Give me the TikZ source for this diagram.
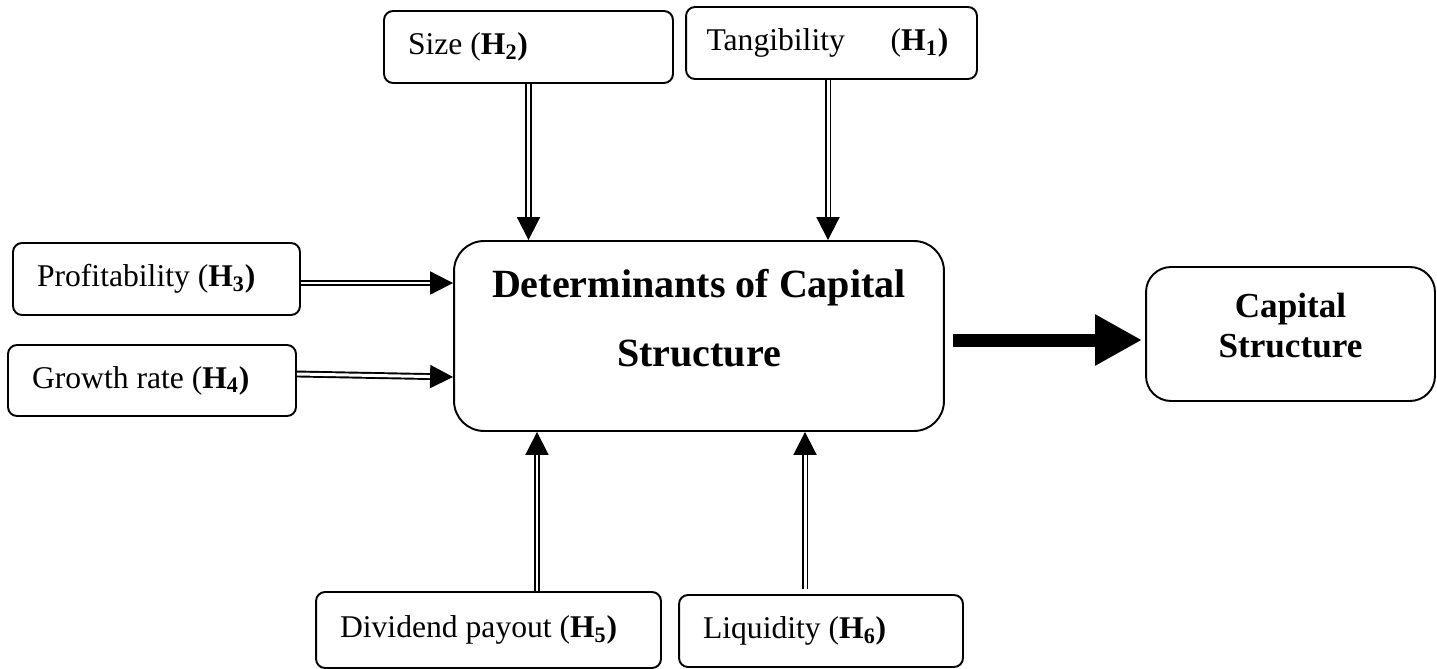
\documentclass[tikz,border=0pt]{standalone}
\usepackage{fontspec}
\setmainfont{Liberation Serif}
\usepackage{tikz}
\usetikzlibrary{arrows.meta}
\usetikzlibrary{calc}

\newcommand{\hyp}[1]{\textbf{H\textsubscript{#1})}}

\begin{document}
\begin{tikzpicture}[x=0.02cm,y=-0.02cm,>={Triangle[length=0.46cm,width=0.46cm]},
                    line width=1.1pt]
  \tikzstyle{factor}=[draw, rounded corners=0.18cm, align=flush left, inner xsep=0.48cm,
                      inner ysep=0pt, minimum height=1.44cm, font=\fontsize{18}{21}\selectfont]
  \tikzstyle{hub}=[draw, rounded corners=0.6cm, align=flush center, inner sep=0pt, text width=9.8cm,
                   text height=1.12cm, text depth=2.68cm, font=\bfseries\fontsize{22.8}{39.3}\selectfont]
  \tikzstyle{outcome}=[draw, rounded corners=0.5cm, align=flush center, inner sep=0pt, text width=5.78cm,
                       text height=1.0cm, text depth=1.68cm, font=\bfseries\fontsize{20}{22.8}\selectfont]
  \tikzstyle{link}=[->, double, double distance=1.7pt, line width=1.1pt]
  \tikzstyle{bigarrow}=[-{Triangle[length=0.94cm,width=0.96cm]}, line width=7.4pt]
  \useasboundingbox (0,0) rectangle (1437,669);
  % centre and result
  \node[hub] (main) at (699,336) {Determinants of Capital\\Structure};
  \node[outcome] (capital) at (1290.5,334) {Capital\\Structure};
  % hypotheses
  \node[factor, text width=4.82cm] (size) at (528.5,47) {Size (\hyp{2}};
  \node[factor, text width=5.0cm, inner xsep=0.41cm] (tang) at (831.5,43) {\mbox{Tangibility\hspace{1.45em}(\hyp{1}}};
  \node[factor, text width=4.78cm] (profit) at (156.5,279) {Profitability (\hyp{3}};
  \node[factor, text width=4.80cm, minimum height=1.42cm] (growth) at (152,380.5) {Growth rate (\hyp{4}};
  \node[factor, text width=5.94cm, minimum height=1.52cm] (divid) at (488.5,630) {Dividend payout (\hyp{5}};
  \node[factor, text width=4.72cm] (liq) at (821,631) {Liquidity (\hyp{6}};
  % arrows
  \draw[link] (size.south) -- (size.south |- main.north);
  \draw[link] ([xshift=-0.07cm]tang.south) -- ([xshift=-0.07cm]tang.south |- main.north);
  \draw[link] ([yshift=-0.08cm]profit.east) -- ([yshift=-0.08cm]profit.east -| main.west);
  \draw[link] ([yshift=0.13cm]growth.east) -- ([yshift=0.07cm]growth.east -| main.west);
  \draw[link] ([xshift=0.97cm]divid.north) -- ([xshift=0.97cm]divid.north |- main.south);
  \draw[link] ([xshift=-0.32cm,yshift=0.1cm]liq.north) -- ([xshift=-0.32cm]liq.north |- main.south);
  \draw[bigarrow] ([xshift=0.16cm,yshift=-0.08cm]main.east) -- ([xshift=-0.06cm,yshift=-0.08cm]main.east -| capital.west);
\end{tikzpicture}
\end{document}
